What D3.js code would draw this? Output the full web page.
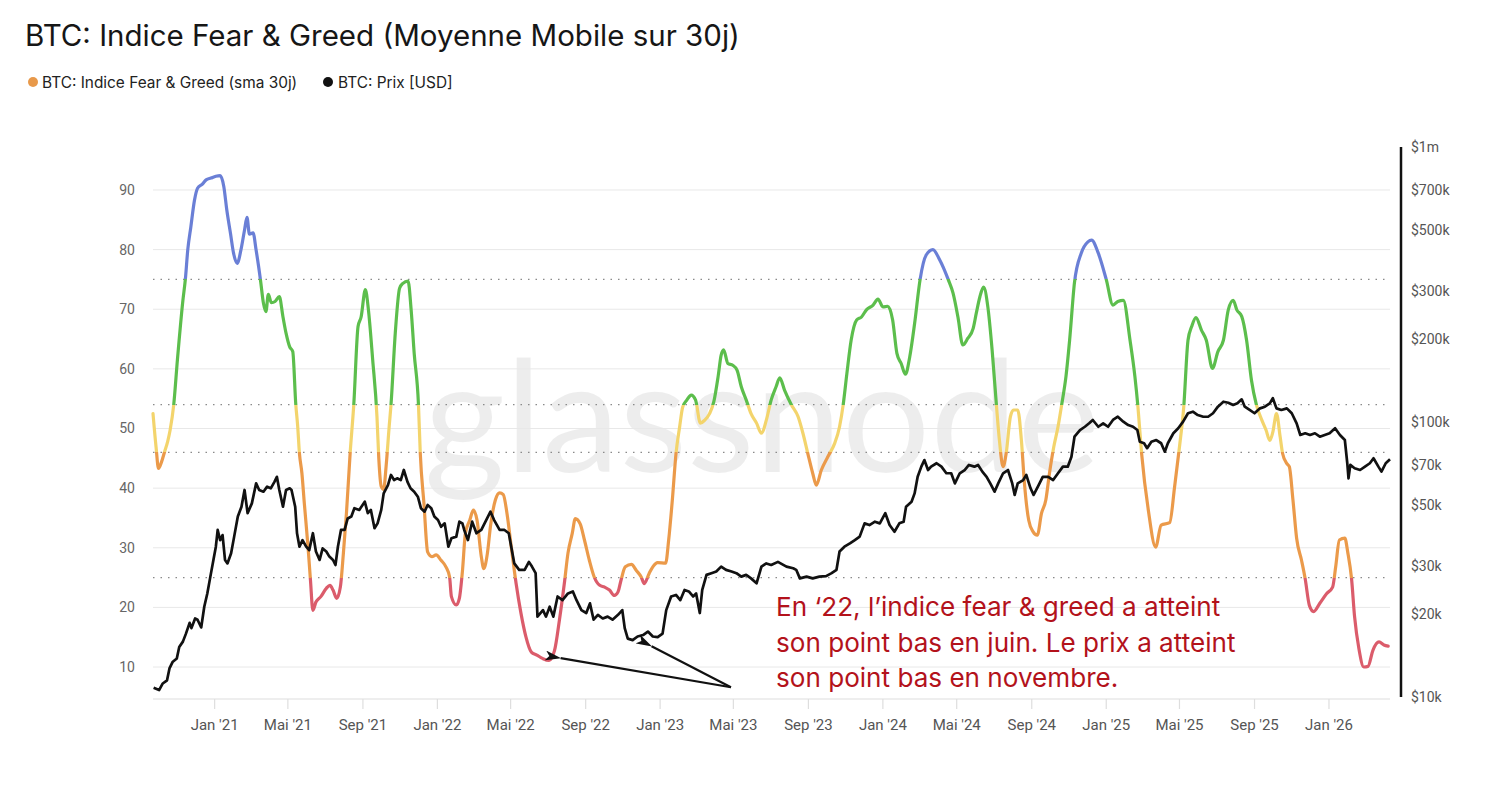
<!DOCTYPE html>
<html><head><meta charset="utf-8">
<script src="https://cdn.jsdelivr.net/npm/d3@7"></script>
<style>
html,body{margin:0;padding:0;background:#fff;}
svg{display:block;font-family:Roboto,"Segoe UI",Arial,sans-serif;}
</style></head><body>
<svg id="chart" width="1500" height="794"></svg>
<script>
// ---------------- DATA ----------------
const fgiDates = [
"2020-09-22","2020-09-27","2020-10-01","2020-10-06","2020-10-11","2020-10-16","2020-10-20","2020-10-26","2020-11-01","2020-11-10",
"2020-11-14","2020-11-18","2020-11-23","2020-11-29","2020-12-04","2020-12-12","2020-12-18","2020-12-26","2021-01-03","2021-01-10",
"2021-01-16","2021-01-21","2021-01-27","2021-02-01","2021-02-07","2021-02-13","2021-02-19","2021-02-23","2021-02-27","2021-03-05",
"2021-03-10","2021-03-17","2021-03-22","2021-03-26","2021-03-30","2021-04-04","2021-04-10","2021-04-17","2021-04-23","2021-04-28",
"2021-05-04","2021-05-09","2021-05-14","2021-05-17","2021-05-20","2021-05-24","2021-05-28","2021-06-03","2021-06-07","2021-06-11",
"2021-06-16","2021-06-24","2021-07-03","2021-07-09","2021-07-14","2021-07-20","2021-07-26","2021-07-31","2021-08-05","2021-08-11",
"2021-08-17","2021-08-24","2021-08-29","2021-09-05","2021-09-10","2021-09-17","2021-09-24","2021-09-27","2021-10-01","2021-10-05",
"2021-10-09","2021-10-14","2021-10-17","2021-10-24","2021-10-31","2021-11-05","2021-11-14","2021-11-19","2021-11-24","2021-12-01",
"2021-12-04","2021-12-10","2021-12-16","2021-12-23","2021-12-30","2022-01-07","2022-01-15","2022-01-21","2022-01-24","2022-02-01",
"2022-02-06","2022-02-11","2022-02-16","2022-02-23","2022-03-01","2022-03-07","2022-03-14","2022-03-18","2022-03-24","2022-03-29",
"2022-04-06","2022-04-13","2022-04-19","2022-04-25","2022-05-02","2022-05-10","2022-05-18","2022-05-26","2022-06-04","2022-06-13",
"2022-06-23","2022-07-03","2022-07-12","2022-07-20","2022-07-28","2022-08-03","2022-08-10","2022-08-15","2022-08-23","2022-08-30",
"2022-09-07","2022-09-15","2022-09-24","2022-10-02","2022-10-10","2022-10-18","2022-10-24","2022-10-29","2022-11-05","2022-11-15",
"2022-11-23","2022-12-01","2022-12-06","2022-12-14","2022-12-20","2022-12-28","2023-01-10","2023-01-15","2023-01-21","2023-01-27",
"2023-02-02","2023-02-07","2023-02-14","2023-02-21","2023-02-28","2023-03-08","2023-03-15","2023-03-23","2023-03-30","2023-04-06",
"2023-04-11","2023-04-15","2023-04-22","2023-04-30","2023-05-07","2023-05-14","2023-05-22","2023-05-30","2023-06-08","2023-06-16",
"2023-06-24","2023-07-02","2023-07-10","2023-07-16","2023-07-24","2023-08-04","2023-08-15","2023-08-23","2023-08-31","2023-09-08",
"2023-09-14","2023-09-22","2023-10-03","2023-10-14","2023-10-22","2023-10-28","2023-11-03","2023-11-10","2023-11-19","2023-11-27",
"2023-12-05","2023-12-16","2023-12-24","2024-01-01","2024-01-09","2024-01-17","2024-01-24","2024-01-31","2024-02-07","2024-02-14",
"2024-02-22","2024-03-02","2024-03-12","2024-03-23","2024-04-03","2024-04-17","2024-04-25","2024-05-03","2024-05-11","2024-05-19",
"2024-05-28","2024-06-02","2024-06-08","2024-06-14","2024-06-21","2024-06-28","2024-07-05","2024-07-10","2024-07-16","2024-07-21",
"2024-07-28","2024-08-02","2024-08-09","2024-08-15","2024-08-20","2024-08-27","2024-09-03","2024-09-10","2024-09-17","2024-09-24",
"2024-09-30","2024-10-07","2024-10-14","2024-10-20","2024-10-27","2024-11-02","2024-11-10","2024-11-21","2024-12-02","2024-12-08",
"2024-12-19","2025-01-01","2025-01-12","2025-01-20","2025-01-29","2025-02-09","2025-02-17","2025-02-22","2025-02-28","2025-03-11",
"2025-03-23","2025-04-01","2025-04-15","2025-04-23","2025-05-01","2025-05-08","2025-05-15","2025-05-21","2025-05-28","2025-06-06",
"2025-06-14","2025-06-24","2025-07-03","2025-07-12","2025-07-20","2025-07-28","2025-08-03","2025-08-11","2025-08-19","2025-08-27",
"2025-09-04","2025-09-13","2025-09-20","2025-09-26","2025-10-01","2025-10-07","2025-10-13","2025-10-17","2025-10-24","2025-10-28",
"2025-11-03","2025-11-09","2025-11-17","2025-11-23","2025-11-30","2025-12-07","2025-12-17","2025-12-28","2026-01-07","2026-01-12",
"2026-01-18","2026-01-27","2026-02-01","2026-02-07","2026-02-12","2026-02-19","2026-02-27","2026-03-06","2026-03-14","2026-03-24",
"2026-04-01","2026-04-08"];
const fgiValues = [
52.5,46.9,43.3,44.4,46.1,47.8,49.7,54,61.5,71.5,
75,80,83.8,88.3,90.3,91,91.7,92,92.3,92.4,
90.6,86.6,82.7,79.4,77.7,79.9,83.3,85.4,82.6,82.8,
79.9,75,71,69.6,72.5,71.1,71.3,72.1,68.7,66,
63.7,62.9,54,50.5,45.8,42.5,37.4,30.2,24.6,19.5,
20.9,21.8,23.2,23.7,22.9,21.5,23.4,29.1,35.8,45.8,
54,67.1,68.7,73.3,69.9,61.5,52,45,40.3,39.8,
43.7,50.3,54,66,73.5,74.3,74.7,69.9,62.6,54,
45.8,37.4,29.3,28.5,28.8,27.9,26.8,25.1,21.8,20.4,
21.5,26,32.5,34.6,36.3,34.6,28.5,26.5,29.1,33.6,
38,39.2,38.9,35.8,30.2,24,19,15.1,12.5,12,
11.4,11.1,12.8,17.9,24,29.1,32.4,34.9,34,31.3,
27.9,25.1,23.7,23.4,22.9,22,22.6,24.6,26.8,27.2,
26.2,25.1,24,25.7,26.8,27.5,27.4,31.3,38,45.8,
50.3,53.6,54.8,55.6,54.8,50.9,51.4,52.5,54.5,58.7,
62.3,63.2,60.9,60.6,59.8,57,54.8,52.5,50.9,49.2,
51.4,54.8,57,58.5,56.4,54,52,49.2,45.8,42.5,
40.5,43,45.3,47.5,50.3,54,59.2,64.8,68.2,68.7,
69.9,70.7,71.7,70.4,70.5,68.2,62.6,60.9,59.1,62,
67.6,75,79.1,80,78.3,75,72.7,68.7,64,65.1,
66.8,69.3,72.1,73.7,70.4,63.2,54,48,43.6,45.8,
52,53.1,53.1,48,40.8,34.6,32.7,32.1,35.8,38,
42.5,46.9,50.3,54,58.7,64.8,74.5,79.4,81.3,81.6,
79.4,75,70.7,71.3,71.5,64.8,58.7,53.6,45.8,36.3,
30.1,33.8,34.2,40.2,46.9,53.6,64.8,67.1,68.6,66.5,
64.8,60.1,62.9,64.8,69.9,71.5,69.9,68.8,64.8,58.1,
54,51.4,49.7,48,49.4,52.5,48.6,45.8,44.1,43.6,
38,31.6,27.9,24.8,20.3,19.3,20.7,22.3,23.4,26.8,
31.3,31.6,29.1,24.8,18.4,13.1,10,10.1,12.8,14.2,
13.7,13.5];

// BTC price in thousands of USD
const priceDates = [
"2020-09-23","2020-10-02","2020-10-08","2020-10-15","2020-10-19","2020-10-24","2020-10-31","2020-11-04","2020-11-10","2020-11-15",
"2020-11-21","2020-11-24","2020-11-30","2020-12-04","2020-12-10","2020-12-15","2020-12-20","2020-12-25","2020-12-30","2021-01-03",
"2021-01-06","2021-01-10","2021-01-14","2021-01-18","2021-01-22","2021-01-28","2021-02-02","2021-02-08","2021-02-14","2021-02-19",
"2021-02-24","2021-03-03","2021-03-10","2021-03-15","2021-03-22","2021-03-28","2021-04-03","2021-04-09","2021-04-13","2021-04-17",
"2021-04-23","2021-04-28","2021-05-04","2021-05-07","2021-05-13","2021-05-16","2021-05-20","2021-05-25","2021-05-31","2021-06-05",
"2021-06-11","2021-06-16","2021-06-22","2021-06-27","2021-07-03","2021-07-08","2021-07-14","2021-07-18","2021-07-22","2021-07-27",
"2021-08-02","2021-08-07","2021-08-13","2021-08-18","2021-08-26","2021-09-04","2021-09-09","2021-09-14","2021-09-20","2021-09-25",
"2021-10-01","2021-10-05","2021-10-12","2021-10-17","2021-10-22","2021-10-27","2021-11-02","2021-11-07","2021-11-13","2021-11-18",
"2021-11-24","2021-11-30","2021-12-05","2021-12-11","2021-12-16","2021-12-22","2021-12-27","2022-01-02","2022-01-07","2022-01-13",
"2022-01-19","2022-01-24","2022-02-01","2022-02-06","2022-02-11","2022-02-14","2022-02-20","2022-02-27","2022-03-06","2022-03-14",
"2022-03-22","2022-03-29","2022-04-04","2022-04-13","2022-04-21","2022-04-28","2022-05-02","2022-05-07","2022-05-15","2022-05-24",
"2022-05-31","2022-06-05","2022-06-11","2022-06-14","2022-06-23","2022-06-28","2022-07-04","2022-07-10","2022-07-17","2022-07-25",
"2022-08-03","2022-08-11","2022-08-17","2022-08-25","2022-09-02","2022-09-08","2022-09-14","2022-09-21","2022-09-29","2022-10-07",
"2022-10-15","2022-10-24","2022-10-31","2022-11-04","2022-11-09","2022-11-17","2022-11-25","2022-12-04","2022-12-12","2022-12-20",
"2022-12-28","2023-01-05","2023-01-11","2023-01-19","2023-01-27","2023-02-03","2023-02-10","2023-02-17","2023-02-24","2023-03-01",
"2023-03-07","2023-03-11","2023-03-18","2023-03-26","2023-04-03","2023-04-11","2023-04-19","2023-04-28","2023-05-06","2023-05-14",
"2023-05-22","2023-05-30","2023-06-08","2023-06-16","2023-06-24","2023-07-02","2023-07-13","2023-07-27","2023-08-07","2023-08-12",
"2023-08-18","2023-08-29","2023-09-08","2023-09-19","2023-09-30","2023-10-09","2023-10-17","2023-10-22","2023-10-30","2023-11-08",
"2023-11-16","2023-11-24","2023-12-02","2023-12-10","2023-12-19","2023-12-27","2024-01-05","2024-01-12","2024-01-20","2024-01-28",
"2024-02-04","2024-02-08","2024-02-17","2024-02-22","2024-02-27","2024-03-04","2024-03-09","2024-03-15","2024-03-20","2024-03-29",
"2024-04-06","2024-04-14","2024-04-22","2024-04-28","2024-05-06","2024-05-14","2024-05-21","2024-05-30","2024-06-05","2024-06-12",
"2024-06-19","2024-06-25","2024-07-02","2024-07-08","2024-07-16","2024-07-24","2024-07-31","2024-08-04","2024-08-09","2024-08-18",
"2024-08-23","2024-08-30","2024-09-04","2024-09-11","2024-09-19","2024-09-28","2024-10-06","2024-10-14","2024-10-22","2024-10-30",
"2024-11-05","2024-11-10","2024-11-19","2024-11-27","2024-12-04","2024-12-10","2024-12-19","2024-12-27","2025-01-04","2025-01-12",
"2025-01-20","2025-01-29","2025-02-06","2025-02-14","2025-02-21","2025-02-25","2025-03-04","2025-03-09","2025-03-16","2025-03-24",
"2025-04-01","2025-04-07","2025-04-12","2025-04-21","2025-04-29","2025-05-07","2025-05-15","2025-05-23","2025-05-31","2025-06-09",
"2025-06-17","2025-06-25","2025-07-03","2025-07-12","2025-07-20","2025-07-28","2025-08-04","2025-08-11","2025-08-16","2025-08-24",
"2025-09-01","2025-09-10","2025-09-18","2025-09-26","2025-10-01","2025-10-07","2025-10-15","2025-10-24","2025-11-01","2025-11-09",
"2025-11-15","2025-11-23","2025-12-01","2025-12-09","2025-12-17","2025-12-25","2026-01-02","2026-01-11","2026-01-19","2026-01-27",
"2026-01-31","2026-02-02","2026-02-05","2026-02-12","2026-02-21","2026-03-01","2026-03-09","2026-03-15","2026-03-23","2026-03-28",
"2026-04-04","2026-04-11"];
const priceValuesK = [
10.8,10.6,11.2,11.5,12.7,13.4,13.8,15.2,15.9,17.0,
18.6,17.8,19.3,19.1,17.9,21.3,23.8,27.4,31.5,35.2,
40.5,37.2,38.8,31.5,30.6,33.3,38.3,45.3,49.2,56.6,
46.6,50.6,59.8,56.6,55.8,58.2,57.4,60.6,63.2,56.6,
49.2,56.6,57.4,56.6,49.2,39.4,35.2,37.2,35.2,34.2,
39.4,33.8,31.5,34.7,33.8,32.4,31.5,30.2,35.2,40.5,
40.5,44.6,45.3,48.6,47.9,51.3,46.6,47.9,41.1,42.8,
47.9,55.0,59.0,64.2,61.5,62.4,61.5,66.9,60.6,57.4,
55.8,53.5,48.6,47.2,49.9,48.6,45.3,44.0,41.6,42.8,
35.2,37.8,38.3,43.4,42.8,40.5,37.2,43.4,39.4,40.5,
44.0,47.2,44.0,40.5,40.5,39.4,35.2,30.6,29.0,29.0,
31.0,29.8,28.2,19.6,20.7,19.6,21.3,19.6,23.2,22.5,
23.8,24.2,22.5,20.7,20.2,21.9,19.1,19.9,19.3,19.6,
19.1,19.9,20.7,17.8,16.3,16.1,16.6,16.8,17.3,16.6,
16.5,17.0,20.7,23.2,23.5,22.5,24.5,24.2,23.2,23.8,
20.2,24.5,27.8,28.2,28.6,29.8,29.0,28.6,28.2,27.4,
27.8,27.0,25.9,29.8,30.6,30.2,31.0,29.8,29.4,29.0,
27.0,27.4,27.0,27.4,27.5,28.2,29.0,33.8,35.2,36.2,
37.2,38.3,42.8,42.2,43.4,42.8,46.6,42.2,39.9,42.8,
43.4,49.2,51.3,55.0,63.2,68.8,72.7,66.9,68.8,70.8,
68.8,65.1,65.1,59.8,65.1,66.9,69.8,68.8,69.8,66.0,
63.2,59.8,55.8,59.8,65.1,66.9,59.8,54.3,59.8,61.5,
64.2,57.4,54.3,58.2,63.2,63.2,61.5,65.1,68.8,68.8,
74.8,88.4,93.5,96.1,98.9,101.7,96.1,98.9,96.1,101.7,
104.5,100.3,97.5,96.1,93.5,84.8,83.7,80.3,84.8,86.0,
83.7,78.0,83.7,91.0,94.9,100.3,107.6,109.0,106.0,104.5,
104.5,107.6,113.7,118.5,117.5,115.3,116.9,120.9,113.7,110.6,
107.6,112.1,113.7,116.9,122.0,112.1,110.6,112.1,107.6,98.9,
89.7,91.0,89.7,91.0,88.4,89.7,91.0,94.9,89.7,86.0,
70.8,62.4,69.8,67.9,66.9,68.8,70.8,73.8,68.8,66.0,
70.8,73.2];

const titleText = "BTC: Indice Fear & Greed (Moyenne Mobile sur 30j)";
const legendItems = ["BTC: Indice Fear & Greed (sma 30j)", "BTC: Prix [USD]"];
const zoneThresholds = [25, 46, 54, 75];
const zoneColors = ["#db5c6b", "#eb9a4a", "#f3d46c", "#5cbe4c", "#6a7fd6"];
const leftTicks = [10, 20, 30, 40, 50, 60, 70, 80, 90];
const priceTicksK = [10, 20, 30, 50, 70, 100, 200, 300, 500, 700, 1000];
const priceTickLabels = ["$10k","$20k","$30k","$50k","$70k","$100k","$200k","$300k","$500k","$700k","$1m"];
const monthLabels = ["Jan","Fév","Mar","Avr","Mai","Juin","Juil","Août","Sep","Oct","Nov","Déc"];
const annotationLines = ["En \u201822, l\u2019indice fear & greed a atteint","son point bas en juin. Le prix a atteint","son point bas en novembre."];

// ---------------- CHART ----------------
const svg = d3.select("#chart");
const parse = d3.utcParse("%Y-%m-%d");
const plot = {left:153, right:1390, top:147, bottom:697};

const x = d3.scaleUtc().domain([parse("2020-09-22"), parse("2026-04-11")]).range([plot.left, plot.right]);
const yL = d3.scaleLinear().domain([4.97, 97.21]).range([plot.bottom, plot.top]);
const yR = d3.scaleLog().domain([10, 1000]).range([plot.bottom, plot.top]);

const fgi = fgiDates.map((d,i)=>({date:parse(d), v:fgiValues[i]}));
const price = priceDates.map((d,i)=>({date:parse(d), v:priceValuesK[i]}));

// title & legend
svg.append("text").attr("x",25).attr("y",46).attr("font-size",29.5).attr("font-family","Inter, Roboto, sans-serif")
  .attr("fill","#161616").text(titleText);
const leg = svg.append("g").attr("font-size",15.4).attr("fill","#222").attr("font-family","Inter, Roboto, sans-serif");
leg.append("circle").attr("cx",33).attr("cy",82).attr("r",5).attr("fill","#e8994a");
leg.append("text").attr("x",42).attr("y",87.5).text(legendItems[0]);
leg.append("circle").attr("cx",328).attr("cy",82).attr("r",5).attr("fill","#111");
leg.append("text").attr("x",338).attr("y",87.5).text(legendItems[1]);

// watermark
svg.append("text").attr("x",762).attr("y",472).attr("text-anchor","middle")
  .attr("font-size",156).attr("font-family","Lato, Roboto, sans-serif").attr("fill","#000").attr("fill-opacity",0.07)
  .text("glassnode");

// gridlines
svg.append("g").selectAll("line").data(leftTicks).join("line")
  .attr("x1",plot.left).attr("x2",plot.right)
  .attr("y1",d=>yL(d)).attr("y2",d=>yL(d))
  .attr("stroke","#e8e8e8").attr("stroke-width",1);

// threshold dotted lines
svg.append("g").selectAll("line").data(zoneThresholds).join("line")
  .attr("x1",plot.left).attr("x2",plot.right)
  .attr("y1",d=>yL(d)).attr("y2",d=>yL(d))
  .attr("stroke","#8a8a8a").attr("stroke-width",1.3).attr("stroke-dasharray","1.5,6");

// left labels
svg.append("g").selectAll("text").data(leftTicks).join("text")
  .attr("x",135).attr("y",d=>yL(d)+5).attr("text-anchor","end")
  .attr("font-size",14).attr("fill","#666").text(d=>d);

// x axis
svg.append("line").attr("x1",plot.left).attr("x2",plot.right).attr("y1",plot.bottom+2).attr("y2",plot.bottom+2)
  .attr("stroke","#dedede").attr("stroke-width",1.2);
const xTicks = d3.utcMonth.range(parse("2020-10-01"), parse("2026-04-11")).filter(d=>d.getUTCMonth()%4===0);
const xa = svg.append("g");
xa.selectAll("line").data(xTicks).join("line")
  .attr("x1",d=>x(d)).attr("x2",d=>x(d)).attr("y1",plot.bottom+2).attr("y2",plot.bottom+12)
  .attr("stroke","#dedede").attr("stroke-width",1.2);
xa.selectAll("text").data(xTicks).join("text")
  .attr("x",d=>x(d)).attr("y",730).attr("text-anchor","middle").attr("font-size",15).attr("fill","#555")
  .text(d=>monthLabels[d.getUTCMonth()]+" '"+String(d.getUTCFullYear()).slice(2));

// right axis
svg.append("line").attr("x1",1401).attr("x2",1401).attr("y1",yR(1000)).attr("y2",yR(10))
  .attr("stroke","#111").attr("stroke-width",2.5);
svg.append("g").selectAll("text").data(priceTicksK).join("text")
  .attr("x",1411).attr("y",d=>yR(d)+5).attr("font-size",14).attr("fill","#555")
  .text((d,i)=>priceTickLabels[i]);

// FGI gradient coloured line
const defs = svg.append("defs");
const y0 = yL(0), y100 = yL(100);
const grad = defs.append("linearGradient").attr("id","fgiGrad").attr("gradientUnits","userSpaceOnUse")
  .attr("x1",0).attr("x2",0).attr("y1",y0).attr("y2",y100);
const bounds = [0, ...zoneThresholds, 100];
zoneColors.forEach((c,i)=>{
  const o1=(yL(bounds[i])-y0)/(y100-y0), o2=(yL(bounds[i+1])-y0)/(y100-y0);
  grad.append("stop").attr("offset",o1).attr("stop-color",c);
  grad.append("stop").attr("offset",o2).attr("stop-color",c);
});
svg.append("path").datum(fgi)
  .attr("d",d3.line().x(d=>x(d.date)).y(d=>yL(d.v)).curve(d3.curveMonotoneX))
  .attr("fill","none").attr("stroke","url(#fgiGrad)").attr("stroke-width",3.2)
  .attr("stroke-linejoin","round").attr("stroke-linecap","round");

// price line
svg.append("path").datum(price)
  .attr("d",d3.line().x(d=>x(d.date)).y(d=>yR(d.v)))
  .attr("fill","none").attr("stroke","#111").attr("stroke-width",2.7).attr("stroke-linejoin","round");

// annotation arrows
defs.append("marker").attr("id","ah").attr("viewBox","0 0 16 10").attr("refX",0.5).attr("refY",5)
  .attr("markerWidth",16).attr("markerHeight",10).attr("markerUnits","userSpaceOnUse").attr("orient","auto-start-reverse")
  .append("path").attr("d","M0,5 L16,0 L12,5 L16,10 Z").attr("fill","#111");
const origin = [x(parse("2023-04-27")), yL(6.6)];
const tips = [[x(parse("2022-07-22")), yL(11.5)], [x(parse("2022-12-18")), yR(15.3)]];
tips.forEach(t=>{
  svg.append("line").attr("x1",t[0]).attr("y1",t[1]).attr("x2",origin[0]).attr("y2",origin[1])
    .attr("stroke","#111").attr("stroke-width",2.2).attr("marker-start","url(#ah)");
});

// annotation text
const ann = svg.append("text").attr("font-size",26.1).attr("fill","#b3121b").attr("font-family","Inter, Roboto, sans-serif");
annotationLines.forEach((l,i)=>{
  ann.append("tspan").attr("x",776).attr("y",616+i*35.5).text(l);
});
</script>
</body></html>
